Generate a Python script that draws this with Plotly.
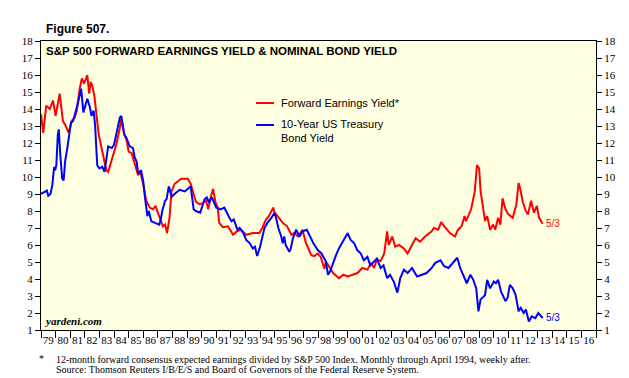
import plotly.graph_objects as go

# Forward earnings yield (red)
fey_t = [1979.0,1979.15,1979.36,1979.6,1979.82,1980.0,1980.28,1980.5,1980.7,1980.9,
         1981.1,1981.3,1981.45,1981.65,1981.8,1981.95,1982.17,1982.3,1982.4,1982.5,
         1982.65,1982.8,1982.95,1983.1,1983.3,1983.47,1983.6,1983.8,1983.95,1984.15,
         1984.4,1984.5,1984.7,1984.85,1985.0,1985.2,1985.45,1985.65,1985.8,1986.0,
         1986.2,1986.45,1986.67,1986.85,1987.0,1987.2,1987.35,1987.5,1987.63,1987.8,
         1987.93,1988.15,1988.4,1988.6,1988.85,1989.05,1989.25,1989.4,1989.6,1989.85,
         1990.05,1990.3,1990.45,1990.6,1990.78,1990.95,1991.1,1991.2,1991.45,1991.8,
         1992.15,1992.4,1992.7,1993.05,1993.5,1993.95,1994.15,1994.4,1994.6,1994.9,
         1995.0,1995.2,1995.55,1995.85,1996.15,1996.35,1996.6,1996.9,1997.15,1997.5,
         1997.7,1997.95,1998.15,1998.4,1998.5,1998.6,1998.85,1999.0,1999.4,1999.7,
         2000.0,2000.35,2000.67,2001.0,2001.35,2001.6,2001.8,2002.0,2002.25,2002.5,
         2002.7,2002.8,2003.05,2003.25,2003.5,2003.85,2004.1,2004.4,2004.65,2004.95,
         2005.3,2005.75,2005.9,2006.2,2006.4,2006.7,2007.0,2007.35,2007.55,2007.8,
         2008.0,2008.1,2008.45,2008.7,2008.85,2009.0,2009.1,2009.25,2009.4,2009.55,
         2009.75,2009.95,2010.1,2010.3,2010.45,2010.6,2010.8,2011.0,2011.3,2011.55,
         2011.7,2011.8,2012.0,2012.2,2012.35,2012.55,2012.75,2012.95,2013.1,2013.35]
fey_v = [13.7,12.6,14.2,14.0,14.5,13.6,14.9,13.3,13.0,12.6,
         13.3,13.5,13.9,15.2,15.8,15.5,16.0,14.9,15.6,15.4,
         14.8,13.5,12.5,11.9,11.1,10.4,10.3,10.9,11.2,11.9,
         12.9,13.4,12.5,12.2,11.5,11.4,10.7,10.1,10.3,9.55,
         8.6,8.2,8.1,8.3,7.9,7.4,7.1,7.2,6.7,7.6,
         9.15,9.6,9.75,9.9,9.9,9.9,9.6,9.2,8.55,8.4,
         8.45,8.6,8.1,8.75,9.3,8.5,8.2,7.3,7.05,7.1,
         6.6,6.8,6.9,6.6,6.7,6.7,7.0,7.5,7.7,8.2,
         7.9,7.7,7.3,7.1,6.6,6.7,6.5,6.9,6.1,5.4,
         5.35,5.5,5.3,4.6,5.0,4.9,4.5,4.35,4.05,4.25,
         4.15,4.25,4.35,4.65,4.55,4.95,4.65,5.15,5.05,5.5,
         6.8,6.0,6.5,5.9,6.0,5.8,5.5,6.0,6.4,6.2,
         6.5,6.8,7.0,6.9,7.35,7.0,6.7,6.5,6.9,7.1,
         7.7,7.4,8.1,9.15,10.7,10.5,9.15,8.3,7.4,7.7,
         6.9,7.2,6.9,7.6,7.2,8.75,8.1,7.8,7.6,8.4,
         9.65,9.35,8.5,8.0,7.8,8.6,7.9,8.3,7.6,7.25]

# 10-year US Treasury bond yield (blue)
bond_t = [1979.0,1979.4,1979.5,1979.65,1979.78,1979.9,1979.97,1980.05,1980.15,1980.22,
          1980.32,1980.45,1980.55,1980.65,1980.8,1980.92,1981.05,1981.2,1981.3,1981.42,
          1981.53,1981.75,1981.9,1982.17,1982.35,1982.45,1982.6,1982.7,1982.77,1982.85,
          1983.0,1983.2,1983.35,1983.45,1983.6,1983.85,1984.0,1984.15,1984.4,1984.5,
          1984.7,1984.85,1985.07,1985.3,1985.4,1985.55,1985.65,1985.85,1986.0,1986.1,
          1986.28,1986.38,1986.55,1986.8,1987.1,1987.2,1987.3,1987.5,1987.6,1987.75,
          1987.95,1988.2,1988.5,1988.85,1989.1,1989.25,1989.45,1989.6,1989.9,1990.2,
          1990.35,1990.5,1990.7,1991.0,1991.3,1991.55,1991.9,1992.05,1992.2,1992.45,
          1992.6,1992.85,1993.05,1993.3,1993.5,1993.65,1993.8,1994.0,1994.3,1994.5,
          1994.77,1995.0,1995.15,1995.25,1995.45,1995.55,1995.65,1995.75,1996.0,1996.1,
          1996.25,1996.47,1996.7,1996.9,1997.2,1997.5,1997.65,1997.95,1998.2,1998.5,
          1998.65,1998.8,1998.95,1999.2,1999.4,1999.6,2000.0,2000.2,2000.45,2000.65,
          2000.9,2001.1,2001.35,2001.55,2001.8,2002.0,2002.25,2002.45,2002.7,2002.9,
          2003.15,2003.4,2003.6,2003.85,2004.1,2004.4,2004.75,2005.05,2005.4,2005.75,
          2006.0,2006.35,2006.6,2006.9,2007.2,2007.5,2007.7,2007.98,2008.15,2008.4,
          2008.6,2008.8,2008.95,2009.1,2009.4,2009.55,2009.75,2010.0,2010.15,2010.3,
          2010.5,2010.8,2010.95,2011.1,2011.3,2011.5,2011.7,2011.85,2012.05,2012.2,
          2012.4,2012.6,2012.85,2013.05,2013.35]
bond_v = [9.0,9.2,8.9,9.0,9.55,10.6,10.4,10.7,12.5,12.8,
          11.3,9.9,9.8,10.9,11.7,12.6,13.2,13.3,13.6,14.0,
          14.35,15.2,13.8,14.6,14.1,13.6,13.9,13.1,12.1,10.7,
          10.5,10.6,10.3,10.9,11.8,11.7,11.9,12.5,13.5,13.6,
          12.5,12.3,11.8,11.7,11.2,10.9,10.2,10.4,9.75,8.95,
          7.7,8.0,7.4,7.3,7.2,7.5,8.0,8.6,8.7,9.45,
          8.85,9.05,9.25,9.15,9.35,9.45,8.1,8.0,7.9,8.7,
          8.8,8.5,8.8,8.2,8.1,8.2,7.6,7.4,7.5,6.9,
          7.0,6.7,6.3,6.1,5.8,5.9,5.35,5.9,7.0,7.3,
          7.6,7.9,7.4,7.0,6.5,6.1,6.5,6.0,5.6,5.8,
          6.4,6.9,6.5,6.8,6.9,6.4,6.1,5.7,5.5,5.05,
          4.25,4.45,4.85,5.4,5.8,6.1,6.7,6.3,6.1,5.7,
          5.5,5.1,5.3,4.8,5.0,5.2,4.65,4.8,4.05,4.25,
          3.85,3.2,4.05,4.55,4.35,4.65,4.15,4.25,4.35,4.65,
          4.95,5.1,4.75,4.65,4.95,5.25,4.65,4.15,3.75,4.25,
          3.95,3.45,2.1,2.8,3.05,3.95,3.45,3.85,3.75,3.95,
          3.25,2.7,2.9,3.65,3.45,3.05,2.1,2.3,2.0,2.2,
          1.5,1.8,1.7,2.0,1.7]

years = list(range(1979, 2017))
year_labels = [f"{y % 100:02d}" for y in years]
y_ticks = list(range(1, 19))

fig = go.Figure()
fig.add_trace(go.Scatter(x=fey_t, y=fey_v, mode="lines",
                         line=dict(color="#FF0000", width=2), showlegend=False))
fig.add_trace(go.Scatter(x=bond_t, y=bond_v, mode="lines",
                         line=dict(color="#0000FF", width=2), showlegend=False))
# invisible trace for right axis
fig.add_trace(go.Scatter(x=[1979], y=[1], yaxis="y2", mode="markers",
                         marker=dict(opacity=0), showlegend=False, hoverinfo="skip"))

tickfont = dict(family="Liberation Serif", size=11, color="#000")

fig.update_layout(
    width=629, height=378,
    margin=dict(l=33, r=41, t=33, b=56, autoexpand=False),
    paper_bgcolor="white",
    plot_bgcolor="#FFFFE2",
    xaxis=dict(range=[1979, 2017], tickvals=[y + 0.5 for y in years], ticktext=year_labels,
               ticks="", ticklen=0, showgrid=False, zeroline=False, automargin=False,
               showline=True, linecolor="black", linewidth=1, mirror=True,
               tickfont=tickfont,
               minor=dict(tick0=1979, dtick=1, ticks="outside", ticklen=7,
                          tickcolor="black", showgrid=False)),
    yaxis=dict(range=[1, 18], tickvals=y_ticks, ticks="outside", ticklen=5,
               tickcolor="black", showgrid=False, zeroline=False, automargin=False,
               showline=True, linecolor="black", linewidth=1, tickfont=tickfont),
    yaxis2=dict(range=[1, 18], tickvals=y_ticks, ticks="outside", ticklen=5,
                tickcolor="black", overlaying="y", side="right", showgrid=False,
                zeroline=False, showline=True, linecolor="black", linewidth=1,
                automargin=False, tickfont=tickfont),
    showlegend=False,
)

def px(xp):
    return (xp - 33) / 555.0

def py(yp):
    return (322 - yp) / 289.0

ann = []
ann.append(dict(x=px(36), y=py(21), xref="paper", yref="paper", text="<b>Figure 507.</b>",
                showarrow=False, xanchor="left", yanchor="middle",
                font=dict(family="Liberation Sans, Arial, sans-serif", size=12, color="black")))
ann.append(dict(x=px(36), y=py(43), xref="paper", yref="paper",
                text="<b>S&P 500 FORWARD EARNINGS YIELD & NOMINAL BOND YIELD</b>",
                showarrow=False, xanchor="left", yanchor="middle",
                font=dict(family="Liberation Sans, Arial, sans-serif", size=11.5, color="black")))
ann.append(dict(x=px(271), y=py(95), xref="paper", yref="paper", text="Forward Earnings Yield*",
                showarrow=False, xanchor="left", yanchor="middle",
                font=dict(family="Liberation Sans, Arial, sans-serif", size=11, color="black")))
ann.append(dict(x=px(271), y=py(123), xref="paper", yref="paper",
                text="10-Year US Treasury<br>Bond Yield",
                showarrow=False, xanchor="left", yanchor="middle", align="left",
                font=dict(family="Liberation Sans, Arial, sans-serif", size=11, color="black")))
ann.append(dict(x=px(34), y=py(313), xref="paper", yref="paper", text="<b><i>yardeni.com</i></b>",
                showarrow=False, xanchor="left", yanchor="middle",
                font=dict(family="Liberation Serif, Times New Roman, serif", size=11, color="black")))
ann.append(dict(x=2013.45, y=7.25, xref="x", yref="y", text="5/3", showarrow=False,
                xanchor="left", yanchor="middle",
                font=dict(family="Liberation Sans, Arial, sans-serif", size=10, color="#FF0000")))
ann.append(dict(x=2013.45, y=1.75, xref="x", yref="y", text="5/3", showarrow=False,
                xanchor="left", yanchor="middle",
                font=dict(family="Liberation Sans, Arial, sans-serif", size=10, color="#0000FF")))
footfont = dict(family="Liberation Serif, Times New Roman, serif", size=10, color="black")
ann.append(dict(x=px(29), y=py(350), xref="paper", yref="paper", text="*", showarrow=False,
                xanchor="left", yanchor="middle", font=footfont))
ann.append(dict(x=px(46), y=py(351), xref="paper", yref="paper",
                text="12-month forward consensus expected earnings divided by S&P 500 Index. Monthly through April 1994, weekly after.",
                showarrow=False, xanchor="left", yanchor="middle", font=footfont))
ann.append(dict(x=px(46), y=py(361), xref="paper", yref="paper",
                text="Source: Thomson Reuters I/B/E/S and Board of Governors of the Federal Reserve System.",
                showarrow=False, xanchor="left", yanchor="middle", font=footfont))
fig.update_layout(annotations=ann)

fig.add_shape(type="line", xref="paper", yref="paper", x0=px(248), x1=px(266), y0=py(95), y1=py(95),
              line=dict(color="#FF0000", width=2))
fig.add_shape(type="line", xref="paper", yref="paper", x0=px(248), x1=px(266), y0=py(117), y1=py(117),
              line=dict(color="#0000FF", width=2))

fig.write_html("out.html")
